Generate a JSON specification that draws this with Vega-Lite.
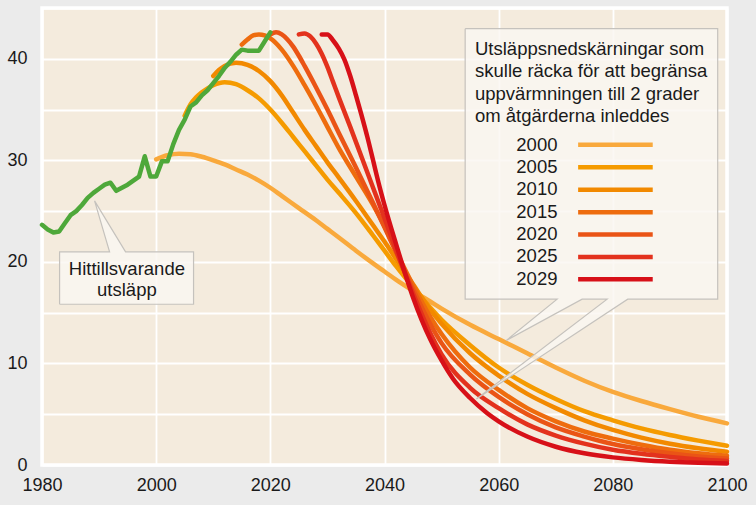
{
  "$schema": "https://vega.github.io/schema/vega-lite/v6.json",
  "width": 685,
  "height": 457,
  "autosize": {"type": "none"},
  "padding": {"left": 42, "top": 8, "right": 29, "bottom": 40},
  "background": "#ebebeb",
  "config": {
    "view": {"fill": "#f4ebdd", "stroke": "#ffffff", "strokeWidth": 3.5},
    "axis": {"domain": false, "ticks": false, "tickSize": 0, "grid": true, "gridColor": "#ffffff", "gridWidth": 1.8, "gridOpacity": 1, "labelFont": "Liberation Sans", "labelFontSize": 18, "labelColor": "#1a1a1a"},
    "text": {"font": "Liberation Sans"}
  },
  "datasets": {
    "hist": [
      {"year": 1980, "value": 23.65}, {"year": 1981, "value": 23.2}, {"year": 1982, "value": 22.9}, {"year": 1983, "value": 23.0},
      {"year": 1984, "value": 23.8}, {"year": 1985, "value": 24.6}, {"year": 1986, "value": 25.0}, {"year": 1987, "value": 25.6},
      {"year": 1988, "value": 26.3}, {"year": 1989, "value": 26.8}, {"year": 1990, "value": 27.2}, {"year": 1991, "value": 27.6},
      {"year": 1992, "value": 27.8}, {"year": 1993, "value": 27.0}, {"year": 1994, "value": 27.3}, {"year": 1995, "value": 27.6},
      {"year": 1996, "value": 28.0}, {"year": 1997, "value": 28.4}, {"year": 1998, "value": 30.4}, {"year": 1999, "value": 28.4},
      {"year": 2000, "value": 28.4}, {"year": 2001, "value": 29.9}, {"year": 2002, "value": 29.9}, {"year": 2003, "value": 31.6},
      {"year": 2004, "value": 33.0}, {"year": 2005, "value": 34.0}, {"year": 2006, "value": 35.3}, {"year": 2007, "value": 35.7},
      {"year": 2008, "value": 36.4}, {"year": 2009, "value": 36.9}, {"year": 2010, "value": 37.6}, {"year": 2011, "value": 38.3},
      {"year": 2012, "value": 39.1}, {"year": 2013, "value": 39.7}, {"year": 2014, "value": 40.4}, {"year": 2015, "value": 40.9},
      {"year": 2016, "value": 40.8}, {"year": 2017, "value": 40.8}, {"year": 2018, "value": 40.8}, {"year": 2019, "value": 41.7},
      {"year": 2020, "value": 42.6}
    ],
    "scen": [
      {"start": "2000", "year": 2000, "value": 30.1}, {"start": "2000", "year": 2002, "value": 30.5}, {"start": "2000", "year": 2004, "value": 30.65},
      {"start": "2000", "year": 2006, "value": 30.6}, {"start": "2000", "year": 2008, "value": 30.35}, {"start": "2000", "year": 2010, "value": 30.0},
      {"start": "2000", "year": 2012, "value": 29.6}, {"start": "2000", "year": 2014, "value": 29.1}, {"start": "2000", "year": 2016, "value": 28.6},
      {"start": "2000", "year": 2018, "value": 28.0}, {"start": "2000", "year": 2020, "value": 27.3}, {"start": "2000", "year": 2022, "value": 26.5},
      {"start": "2000", "year": 2025, "value": 25.3}, {"start": "2000", "year": 2028, "value": 24.1}, {"start": "2000", "year": 2030, "value": 23.25},
      {"start": "2000", "year": 2032, "value": 22.4}, {"start": "2000", "year": 2035, "value": 21.1}, {"start": "2000", "year": 2038, "value": 19.85},
      {"start": "2000", "year": 2040, "value": 19.05}, {"start": "2000", "year": 2042, "value": 18.25}, {"start": "2000", "year": 2045, "value": 17.15},
      {"start": "2000", "year": 2048, "value": 16.1}, {"start": "2000", "year": 2050, "value": 15.4}, {"start": "2000", "year": 2055, "value": 13.8},
      {"start": "2000", "year": 2060, "value": 12.4}, {"start": "2000", "year": 2065, "value": 11.0}, {"start": "2000", "year": 2070, "value": 9.6},
      {"start": "2000", "year": 2075, "value": 8.3}, {"start": "2000", "year": 2080, "value": 7.2}, {"start": "2000", "year": 2085, "value": 6.3},
      {"start": "2000", "year": 2090, "value": 5.5}, {"start": "2000", "year": 2095, "value": 4.75}, {"start": "2000", "year": 2100, "value": 4.1},

      {"start": "2005", "year": 2005, "value": 34.4}, {"start": "2005", "year": 2006, "value": 35.5}, {"start": "2005", "year": 2007, "value": 36.2},
      {"start": "2005", "year": 2008, "value": 36.7}, {"start": "2005", "year": 2010, "value": 37.4}, {"start": "2005", "year": 2012, "value": 37.7},
      {"start": "2005", "year": 2014, "value": 37.5}, {"start": "2005", "year": 2016, "value": 36.9}, {"start": "2005", "year": 2018, "value": 36.1},
      {"start": "2005", "year": 2020, "value": 35.0}, {"start": "2005", "year": 2022, "value": 33.7}, {"start": "2005", "year": 2024, "value": 32.3},
      {"start": "2005", "year": 2026, "value": 30.9}, {"start": "2005", "year": 2028, "value": 29.5}, {"start": "2005", "year": 2030, "value": 28.1},
      {"start": "2005", "year": 2032, "value": 26.8}, {"start": "2005", "year": 2035, "value": 24.8}, {"start": "2005", "year": 2038, "value": 22.6},
      {"start": "2005", "year": 2040, "value": 21.1}, {"start": "2005", "year": 2042, "value": 19.6}, {"start": "2005", "year": 2045, "value": 17.5},
      {"start": "2005", "year": 2048, "value": 15.5}, {"start": "2005", "year": 2050, "value": 14.3}, {"start": "2005", "year": 2055, "value": 11.8},
      {"start": "2005", "year": 2060, "value": 9.6}, {"start": "2005", "year": 2065, "value": 7.9}, {"start": "2005", "year": 2070, "value": 6.5},
      {"start": "2005", "year": 2075, "value": 5.3}, {"start": "2005", "year": 2080, "value": 4.4}, {"start": "2005", "year": 2085, "value": 3.6},
      {"start": "2005", "year": 2090, "value": 2.95}, {"start": "2005", "year": 2095, "value": 2.4}, {"start": "2005", "year": 2100, "value": 1.9},

      {"start": "2010", "year": 2010, "value": 38.3}, {"start": "2010", "year": 2011, "value": 38.9}, {"start": "2010", "year": 2012, "value": 39.3},
      {"start": "2010", "year": 2014, "value": 39.6}, {"start": "2010", "year": 2016, "value": 39.4}, {"start": "2010", "year": 2018, "value": 38.8},
      {"start": "2010", "year": 2020, "value": 37.8}, {"start": "2010", "year": 2022, "value": 36.4}, {"start": "2010", "year": 2024, "value": 34.7},
      {"start": "2010", "year": 2026, "value": 33.0}, {"start": "2010", "year": 2028, "value": 31.4}, {"start": "2010", "year": 2030, "value": 29.8},
      {"start": "2010", "year": 2032, "value": 28.3}, {"start": "2010", "year": 2035, "value": 26.0}, {"start": "2010", "year": 2038, "value": 23.6},
      {"start": "2010", "year": 2040, "value": 22.0}, {"start": "2010", "year": 2042, "value": 20.3}, {"start": "2010", "year": 2045, "value": 17.8},
      {"start": "2010", "year": 2048, "value": 15.3}, {"start": "2010", "year": 2050, "value": 13.9}, {"start": "2010", "year": 2055, "value": 11.0},
      {"start": "2010", "year": 2060, "value": 8.8}, {"start": "2010", "year": 2065, "value": 7.0}, {"start": "2010", "year": 2070, "value": 5.6},
      {"start": "2010", "year": 2075, "value": 4.4}, {"start": "2010", "year": 2080, "value": 3.45}, {"start": "2010", "year": 2085, "value": 2.7},
      {"start": "2010", "year": 2090, "value": 2.1}, {"start": "2010", "year": 2095, "value": 1.65}, {"start": "2010", "year": 2100, "value": 1.3},

      {"start": "2015", "year": 2015, "value": 41.4}, {"start": "2015", "year": 2016, "value": 41.9}, {"start": "2015", "year": 2017, "value": 42.3},
      {"start": "2015", "year": 2018, "value": 42.4}, {"start": "2015", "year": 2019, "value": 42.3}, {"start": "2015", "year": 2020, "value": 42.0},
      {"start": "2015", "year": 2022, "value": 40.9}, {"start": "2015", "year": 2024, "value": 39.3}, {"start": "2015", "year": 2026, "value": 37.4},
      {"start": "2015", "year": 2028, "value": 35.4}, {"start": "2015", "year": 2030, "value": 33.3}, {"start": "2015", "year": 2032, "value": 31.2},
      {"start": "2015", "year": 2035, "value": 28.4}, {"start": "2015", "year": 2038, "value": 25.6}, {"start": "2015", "year": 2040, "value": 23.5},
      {"start": "2015", "year": 2042, "value": 21.1}, {"start": "2015", "year": 2045, "value": 17.7}, {"start": "2015", "year": 2048, "value": 14.6},
      {"start": "2015", "year": 2050, "value": 12.9}, {"start": "2015", "year": 2055, "value": 9.6}, {"start": "2015", "year": 2060, "value": 7.4},
      {"start": "2015", "year": 2065, "value": 5.6}, {"start": "2015", "year": 2070, "value": 4.3}, {"start": "2015", "year": 2075, "value": 3.3},
      {"start": "2015", "year": 2080, "value": 2.6}, {"start": "2015", "year": 2085, "value": 2.0}, {"start": "2015", "year": 2090, "value": 1.5},
      {"start": "2015", "year": 2095, "value": 1.15}, {"start": "2015", "year": 2100, "value": 0.9},

      {"start": "2020", "year": 2020, "value": 42.4}, {"start": "2020", "year": 2021, "value": 42.6}, {"start": "2020", "year": 2022, "value": 42.4},
      {"start": "2020", "year": 2023, "value": 41.9}, {"start": "2020", "year": 2024, "value": 41.2}, {"start": "2020", "year": 2025, "value": 40.3},
      {"start": "2020", "year": 2026, "value": 39.3}, {"start": "2020", "year": 2028, "value": 37.2}, {"start": "2020", "year": 2030, "value": 35.0},
      {"start": "2020", "year": 2032, "value": 32.7}, {"start": "2020", "year": 2035, "value": 29.3}, {"start": "2020", "year": 2038, "value": 25.8},
      {"start": "2020", "year": 2040, "value": 23.4}, {"start": "2020", "year": 2042, "value": 21.0}, {"start": "2020", "year": 2045, "value": 17.3},
      {"start": "2020", "year": 2048, "value": 13.9}, {"start": "2020", "year": 2050, "value": 12.0}, {"start": "2020", "year": 2055, "value": 8.9},
      {"start": "2020", "year": 2060, "value": 6.7}, {"start": "2020", "year": 2065, "value": 5.0}, {"start": "2020", "year": 2070, "value": 3.7},
      {"start": "2020", "year": 2075, "value": 2.8}, {"start": "2020", "year": 2080, "value": 2.07}, {"start": "2020", "year": 2085, "value": 1.55},
      {"start": "2020", "year": 2090, "value": 1.15}, {"start": "2020", "year": 2095, "value": 0.85}, {"start": "2020", "year": 2100, "value": 0.65},

      {"start": "2025", "year": 2025, "value": 42.4}, {"start": "2025", "year": 2026, "value": 42.5}, {"start": "2025", "year": 2027, "value": 42.2},
      {"start": "2025", "year": 2028, "value": 41.5}, {"start": "2025", "year": 2029, "value": 40.5}, {"start": "2025", "year": 2030, "value": 39.2},
      {"start": "2025", "year": 2031, "value": 37.7}, {"start": "2025", "year": 2032, "value": 36.2}, {"start": "2025", "year": 2034, "value": 33.3},
      {"start": "2025", "year": 2036, "value": 30.3}, {"start": "2025", "year": 2038, "value": 27.3}, {"start": "2025", "year": 2040, "value": 24.3},
      {"start": "2025", "year": 2042, "value": 21.2}, {"start": "2025", "year": 2045, "value": 16.9}, {"start": "2025", "year": 2048, "value": 13.0},
      {"start": "2025", "year": 2050, "value": 10.9}, {"start": "2025", "year": 2055, "value": 7.6}, {"start": "2025", "year": 2060, "value": 5.6},
      {"start": "2025", "year": 2065, "value": 4.0}, {"start": "2025", "year": 2070, "value": 2.9}, {"start": "2025", "year": 2075, "value": 2.1},
      {"start": "2025", "year": 2080, "value": 1.5}, {"start": "2025", "year": 2085, "value": 1.1}, {"start": "2025", "year": 2090, "value": 0.8},
      {"start": "2025", "year": 2095, "value": 0.55}, {"start": "2025", "year": 2100, "value": 0.4},

      {"start": "2029", "year": 2029, "value": 42.4}, {"start": "2029", "year": 2030, "value": 42.4}, {"start": "2029", "year": 2031, "value": 41.8},
      {"start": "2029", "year": 2032, "value": 41.0}, {"start": "2029", "year": 2033, "value": 39.9}, {"start": "2029", "year": 2034, "value": 38.3},
      {"start": "2029", "year": 2035, "value": 36.4}, {"start": "2029", "year": 2036, "value": 34.4}, {"start": "2029", "year": 2037, "value": 32.3},
      {"start": "2029", "year": 2038, "value": 30.0}, {"start": "2029", "year": 2039, "value": 27.7}, {"start": "2029", "year": 2040, "value": 25.6},
      {"start": "2029", "year": 2042, "value": 21.8}, {"start": "2029", "year": 2045, "value": 16.5}, {"start": "2029", "year": 2048, "value": 12.4},
      {"start": "2029", "year": 2050, "value": 10.3}, {"start": "2029", "year": 2052, "value": 8.5}, {"start": "2029", "year": 2055, "value": 6.6},
      {"start": "2029", "year": 2058, "value": 5.1}, {"start": "2029", "year": 2060, "value": 4.3}, {"start": "2029", "year": 2065, "value": 2.8},
      {"start": "2029", "year": 2070, "value": 1.8}, {"start": "2029", "year": 2075, "value": 1.15}, {"start": "2029", "year": 2080, "value": 0.75},
      {"start": "2029", "year": 2085, "value": 0.5}, {"start": "2029", "year": 2090, "value": 0.33}, {"start": "2029", "year": 2095, "value": 0.22},
      {"start": "2029", "year": 2100, "value": 0.15}
    ],
    "callout": [
      {"id": "legend", "o": 1, "x": 2054.13, "y": 42.96},
      {"id": "legend", "o": 2, "x": 2098.37, "y": 42.96},
      {"id": "legend", "o": 3, "x": 2098.37, "y": 16.33},
      {"id": "legend", "o": 4, "x": 2082.61, "y": 16.33},
      {"id": "legend", "o": 5, "x": 2056.1, "y": 6.5},
      {"id": "legend", "o": 6, "x": 2079.0, "y": 16.33},
      {"id": "legend", "o": 7, "x": 2074.62, "y": 16.33},
      {"id": "legend", "o": 8, "x": 2061.3, "y": 12.25},
      {"id": "legend", "o": 9, "x": 2070.24, "y": 16.33},
      {"id": "legend", "o": 10, "x": 2054.13, "y": 16.33},
      {"id": "legend", "o": 11, "x": 2054.13, "y": 42.96},
      {"id": "hist", "o": 1, "x": 1983.08, "y": 15.83},
      {"id": "hist", "o": 2, "x": 1983.08, "y": 20.99},
      {"id": "hist", "o": 3, "x": 1991.84, "y": 20.99},
      {"id": "hist", "o": 4, "x": 1989.21, "y": 26.01},
      {"id": "hist", "o": 5, "x": 1994.64, "y": 20.99},
      {"id": "hist", "o": 6, "x": 2006.55, "y": 20.99},
      {"id": "hist", "o": 7, "x": 2006.55, "y": 15.83},
      {"id": "hist", "o": 8, "x": 1983.08, "y": 15.83}
    ]
  },
  "layer": [
    {
      "data": {"name": "scen"},
      "mark": {"type": "line", "strokeWidth": 4.5, "interpolate": "monotone", "strokeCap": "round"},
      "encoding": {
        "x": {"field": "year", "type": "quantitative", "title": null,
              "scale": {"domain": [1980, 2100], "nice": false, "zero": false},
              "axis": {"values": [1980, 2000, 2020, 2040, 2060, 2080, 2100], "labelPadding": 11, "labelFlush": false, "format": "d"}},
        "y": {"field": "value", "type": "quantitative", "title": null,
              "scale": {"domain": [0, 45], "nice": false},
              "axis": {"values": [0, 5, 10, 15, 20, 25, 30, 35, 40, 45], "labelExpr": "datum.value % 10 === 0 ? datum.label : ''", "labelPadding": 15, "labelFlush": false}},
        "color": {"field": "start", "type": "nominal", "legend": null,
                  "scale": {"domain": ["2000", "2005", "2010", "2015", "2020", "2025", "2029"],
                            "range": ["#f9a93c", "#f59b00", "#f28900", "#ee6c0e", "#ea5416", "#e3321d", "#d71018"]}}
      }
    },
    {
      "data": {"name": "hist"},
      "mark": {"type": "line", "strokeWidth": 4.5, "stroke": "#4ea83a", "strokeJoin": "round", "strokeCap": "round"},
      "encoding": {
        "x": {"field": "year", "type": "quantitative", "title": null},
        "y": {"field": "value", "type": "quantitative", "title": null}
      }
    },
    {
      "data": {"name": "callout"},
      "mark": {"type": "line", "interpolate": "linear", "fill": "#faf7f2", "fillOpacity": 0.82, "stroke": "#c5c2bd", "strokeWidth": 1.2},
      "encoding": {
        "x": {"field": "x", "type": "quantitative", "title": null},
        "y": {"field": "y", "type": "quantitative", "title": null},
        "detail": {"field": "id", "type": "nominal"},
        "order": {"field": "o", "type": "quantitative"}
      }
    },
    {
      "data": {"values": [{}]},
      "mark": {"type": "text", "align": "left", "baseline": "alphabetic", "fontSize": 18.5, "lineHeight": 22.4, "color": "#1a1a1a",
               "text": ["Utsläppsnedskärningar som", "skulle räcka för att begränsa", "uppvärmningen till 2 grader", "om åtgärderna inleddes"]},
      "encoding": {
        "x": {"datum": 2055.85, "type": "quantitative", "title": null},
        "y": {"datum": 40.39, "type": "quantitative", "title": null}
      }
    },
    {
      "data": {"values": [{}]},
      "mark": {"type": "text", "align": "right", "baseline": "alphabetic", "fontSize": 18.5, "lineHeight": 22.3, "color": "#1a1a1a",
               "text": ["2000", "2005", "2010", "2015", "2020", "2025", "2029"]},
      "encoding": {
        "x": {"datum": 2070.3, "type": "quantitative", "title": null},
        "y": {"datum": 30.94, "type": "quantitative", "title": null}
      }
    },
    {
      "data": {"values": [{}]},
      "mark": {"type": "text", "align": "center", "baseline": "alphabetic", "fontSize": 18.5, "lineHeight": 21.5, "color": "#1a1a1a",
               "text": ["Hittillsvarande", "utsläpp"]},
      "encoding": {
        "x": {"datum": 1994.87, "type": "quantitative", "title": null},
        "y": {"datum": 18.72, "type": "quantitative", "title": null}
      }
    },
    {"data": {"values": [{}]}, "mark": {"type": "rule", "stroke": "#f9a93c", "strokeWidth": 4.5, "strokeCap": "butt"},
     "encoding": {"x": {"datum": 2073.92, "type": "quantitative", "title": null}, "x2": {"datum": 2086.99}, "y": {"datum": 31.53, "type": "quantitative", "title": null}}},
    {"data": {"values": [{}]}, "mark": {"type": "rule", "stroke": "#f59b00", "strokeWidth": 4.5, "strokeCap": "butt"},
     "encoding": {"x": {"datum": 2073.92, "type": "quantitative", "title": null}, "x2": {"datum": 2086.99}, "y": {"datum": 29.32, "type": "quantitative", "title": null}}},
    {"data": {"values": [{}]}, "mark": {"type": "rule", "stroke": "#f28900", "strokeWidth": 4.5, "strokeCap": "butt"},
     "encoding": {"x": {"datum": 2073.92, "type": "quantitative", "title": null}, "x2": {"datum": 2086.99}, "y": {"datum": 27.11, "type": "quantitative", "title": null}}},
    {"data": {"values": [{}]}, "mark": {"type": "rule", "stroke": "#ee6c0e", "strokeWidth": 4.5, "strokeCap": "butt"},
     "encoding": {"x": {"datum": 2073.92, "type": "quantitative", "title": null}, "x2": {"datum": 2086.99}, "y": {"datum": 24.9, "type": "quantitative", "title": null}}},
    {"data": {"values": [{}]}, "mark": {"type": "rule", "stroke": "#ea5416", "strokeWidth": 4.5, "strokeCap": "butt"},
     "encoding": {"x": {"datum": 2073.92, "type": "quantitative", "title": null}, "x2": {"datum": 2086.99}, "y": {"datum": 22.7, "type": "quantitative", "title": null}}},
    {"data": {"values": [{}]}, "mark": {"type": "rule", "stroke": "#e3321d", "strokeWidth": 4.5, "strokeCap": "butt"},
     "encoding": {"x": {"datum": 2073.92, "type": "quantitative", "title": null}, "x2": {"datum": 2086.99}, "y": {"datum": 20.49, "type": "quantitative", "title": null}}},
    {"data": {"values": [{}]}, "mark": {"type": "rule", "stroke": "#d71018", "strokeWidth": 4.5, "strokeCap": "butt"},
     "encoding": {"x": {"datum": 2073.92, "type": "quantitative", "title": null}, "x2": {"datum": 2086.99}, "y": {"datum": 18.28, "type": "quantitative", "title": null}}}
  ]
}
